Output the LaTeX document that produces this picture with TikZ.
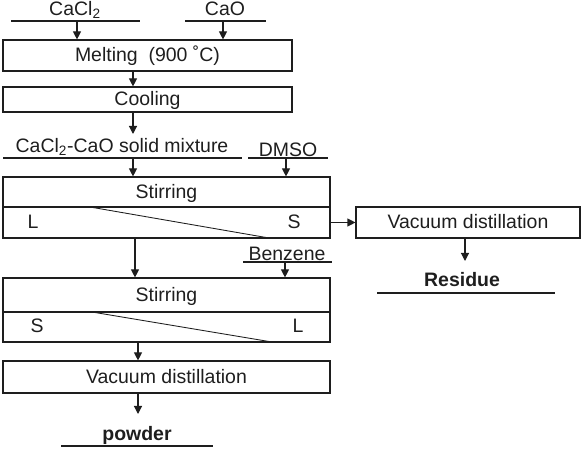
\documentclass[tikz,border=0pt]{standalone}
\usepackage{fontspec}
\setmainfont{Liberation Sans}
\usetikzlibrary{arrows.meta,fit}
\definecolor{ink}{RGB}{30,30,30}
\begin{document}
\begin{tikzpicture}[x=0.75pt,y=-0.75pt,
  txt/.style={font=\fontsize{14.6}{16}\selectfont,text=ink},
  box/.style={draw=ink,line width=0.85pt,inner sep=0pt},
  lbl/.style={anchor=base,inner sep=0pt,txt},
  blbl/.style={lbl,font=\fontsize{14.6}{16}\selectfont\bfseries},
  ul/.style={draw=ink,line width=0.85pt},
  arr/.style={draw=ink,line width=0.85pt,-{Triangle[length=6pt,width=6pt]}},
  inl/.style={inner sep=0pt,txt,text height=0.72em,text depth=0pt}]
\useasboundingbox (0,0) rectangle (583,449);
% inputs
\node[lbl] (cacl2) at (75,16) {CaCl\textsubscript{2}};
\node[lbl] (cao) at (225,16) {CaO};
\draw[ul] (11,21) -- (140,21);
\draw[ul] (185,21) -- (266,21);
\coordinate (in1) at (77,21);
\coordinate (in2) at (223,21);
% melting / cooling
\node[box,fit={(3,40)(292,71)}] (melt) {};
\node[inl] (meltt) at ([yshift=-1pt]melt.center) {Melting~~(900 ˚C)};
\node[box,fit={(3,87)(292,112)}] (cool) {};
\node[inl] (coolt) at ([yshift=-1pt]cool.center) {Cooling};
\draw[arr] (in1) -- (melt.north -| in1);
\draw[arr] (in2) -- (melt.north -| in2);
\coordinate (c1) at (133,71);
\draw[arr] (c1) -- (cool.north -| c1);
% mixture
\node[lbl] (mix) at (122,153) {CaCl\textsubscript{2}-CaO solid mixture};
\node[lbl] (dmso) at (288,156.5) {DMSO};
\draw[ul] (3,158) -- (242,158);
\draw[ul] (248,158) -- (328,158);
\coordinate (mixtop) at (133,134);
\draw[arr] (cool.south -| c1) -- (mixtop);
\coordinate (in3) at (133,158);
\coordinate (in4) at (286,158);
% stirring 1
\node[box,fit={(3,177)(330,207)}] (s1t) {};
\node[inl] (s1tt) at ([yshift=-1pt]s1t.center) {Stirring};
\node[box,fit={(3,207)(330,238)}] (s1b) {};
\draw[arr] (in3) -- (s1t.north -| in3);
\draw[arr] (in4) -- (s1t.north -| in4);
\draw[ink,line width=0.65pt] (90,207) -- (269,238);
\node[inl] (L1) at (33,224) {L};
\node[inl] (S1) at (294,224) {S};
% right branch
\node[box,fit={(356,207)(580,238)}] (vac1) {};
\node[inl] (vac1t) at ([yshift=-1pt]vac1.center) {Vacuum distillation};
\draw[arr] (s1b.east) -- (vac1.west);
\node[blbl] (res) at (462,287) {Residue};
\draw[ul] (377,293) -- (555,293);
\coordinate (rtop) at (465,261);
\draw[arr] (vac1.south -| rtop) -- (rtop);
% benzene
\node[lbl] (benz) at (287,260.5) {Benzene};
\draw[ul] (243,262) -- (332,262);
\coordinate (in5) at (285,262);
% stirring 2
\node[box,fit={(3,278)(330,312)}] (s2t) {};
\node[inl] (s2tt) at ([yshift=-1pt]s2t.center) {Stirring};
\node[box,fit={(3,312)(330,342)}] (s2b) {};
\coordinate (c2) at (135,238);
\draw[arr] (c2) -- (s2t.north -| c2);
\draw[arr] (in5) -- (s2t.north -| in5);
\draw[ink,line width=0.65pt] (92,312) -- (272,342);
\node[inl] (S2) at (37,328) {S};
\node[inl] (L2) at (298,328) {L};
% vacuum 2
\node[box,fit={(3,361)(330,393)}] (vac2) {};
\node[inl] (vac2t) at ([yshift=-1pt]vac2.center) {Vacuum distillation};
\coordinate (c3) at (138,342);
\draw[arr] (c3) -- (vac2.north -| c3);
\node[blbl] (pow) at (137,440.5) {powder};
\draw[ul] (61,446) -- (213,446);
\coordinate (ptop) at (138,414);
\draw[arr] (vac2.south -| ptop) -- (ptop);
\end{tikzpicture}
\end{document}
